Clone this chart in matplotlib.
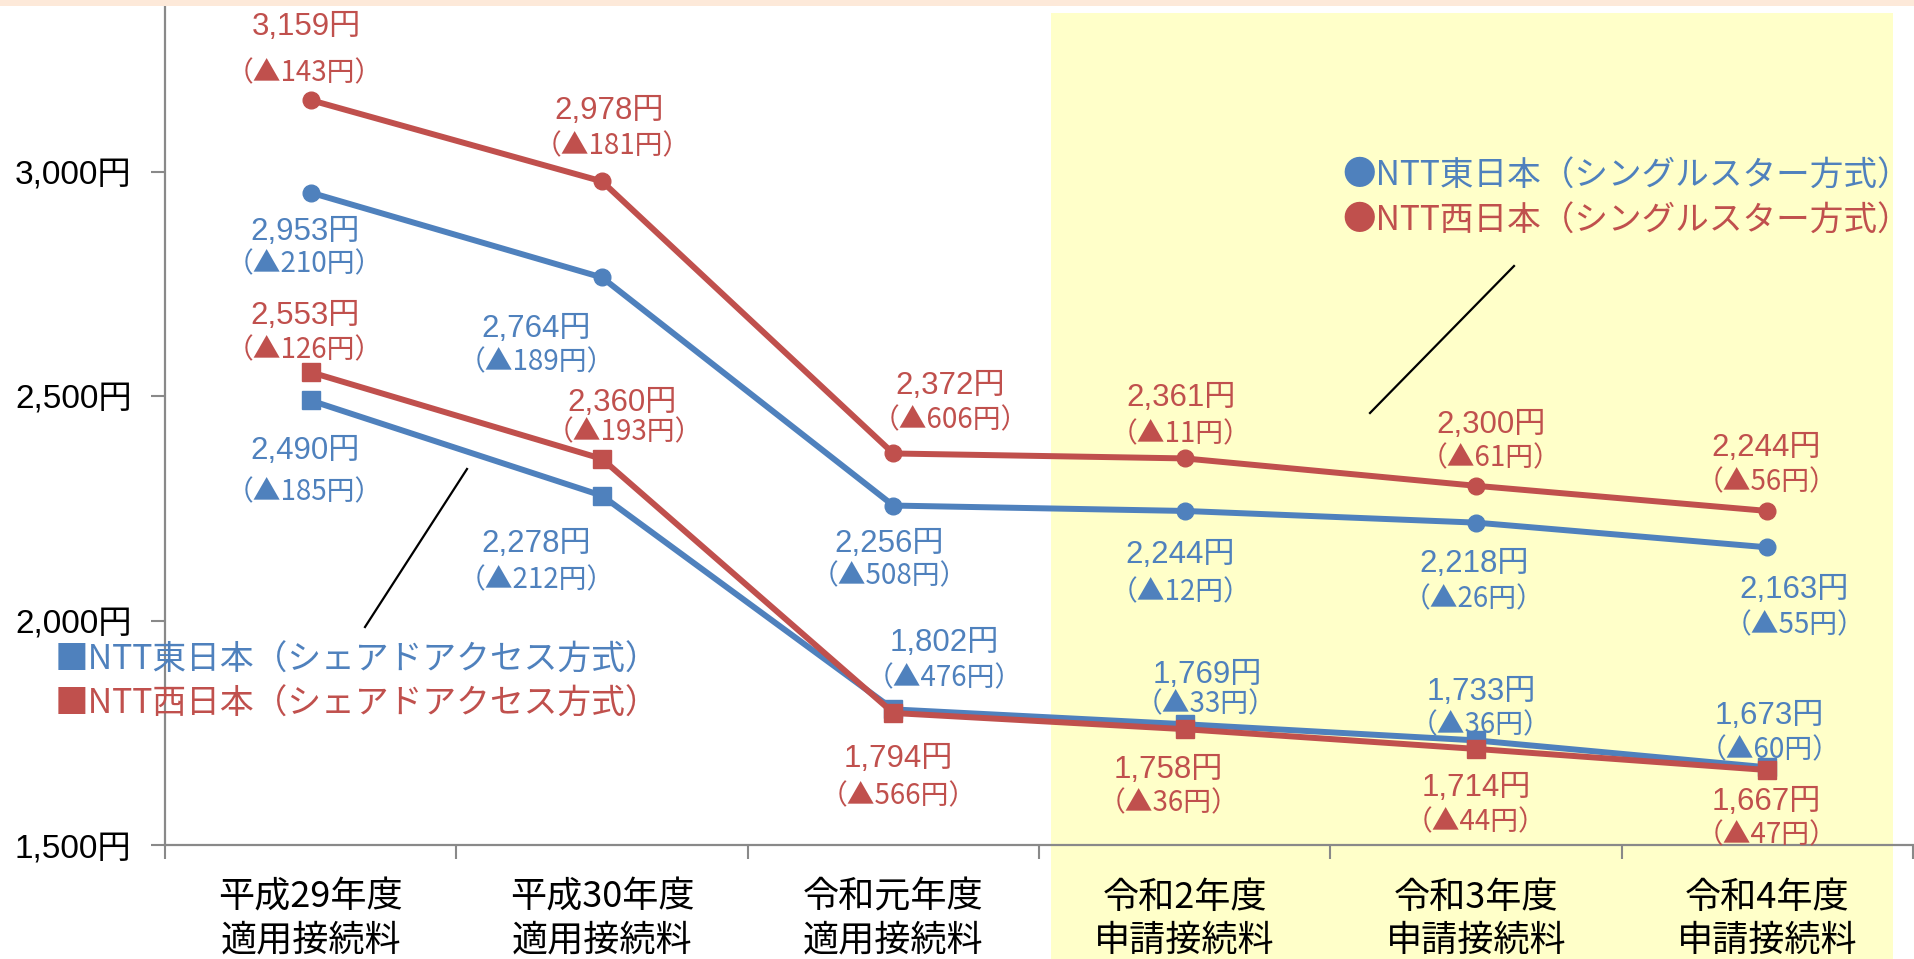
import matplotlib
matplotlib.use("Agg")
import matplotlib.pyplot as plt
from matplotlib.patches import Rectangle
from matplotlib.lines import Line2D

plt.rcParams['font.family'] = ['Liberation Sans', 'Noto Sans CJK JP']
CJK = ['Noto Sans CJK JP', 'DejaVu Sans']

# ---------------- data ----------------
categories = ["平成29年度\n適用接続料", "平成30年度\n適用接続料", "令和元年度\n適用接続料",
              "令和2年度\n申請接続料", "令和3年度\n申請接続料", "令和4年度\n申請接続料"]
east_single = [2953, 2764, 2256, 2244, 2218, 2163]
west_single = [3159, 2978, 2372, 2361, 2300, 2244]
east_shared = [2490, 2278, 1802, 1769, 1733, 1673]
west_shared = [2553, 2360, 1794, 1758, 1714, 1667]
east_single_cut = [210, 189, 508, 12, 26, 55]
west_single_cut = [143, 181, 606, 11, 61, 56]
east_shared_cut = [185, 212, 476, 33, 36, 60]
west_shared_cut = [126, 193, 566, 36, 44, 47]
yticks = [1500, 2000, 2500, 3000]

# ---------------- label offsets (pixels, +down) ----------------
off = {
    'ws': ([(-4, -73), (7, -70), (57, -67), (-4, -60), (15, -61), (-1, -63)],
           [(-6, -27), (10, -35), (57, -33), (-4, -24), (15, -27), (-1, -29)]),
    'es': ([(-6, 39), (-66, 52), (-4, 38), (-4, 44), (-2, 41), (27, 43)],
           [(-6, 72), (-66, 85), (-4, 71), (-4, 81), (-2, 77), (27, 78)]),
    'eh': ([(-6, 51), (-66, 48), (51, -66), (23, -49), (5, -48), (2, -51)],
           [(-6, 92), (-66, 85), (51, -31), (21, -20), (5, -15), (2, -17)]),
    'wh': ([(-6, -56), (20, -56), (5, 46), (-16, 41), (0, 39), (-1, 32)],
           [(-6, -22), (22, -27), (5, 83), (-16, 74), (0, 73), (-1, 65)]),
}

BLUE = "#4F81BD"
RED = "#C0504D"

W, H = 1914, 959
fig = plt.figure(figsize=(W / 100, H / 100), dpi=100)
fig.patch.set_facecolor("white")

def fx(px):
    return px / W

def fy(py):
    return 1 - py / H

ax = fig.add_axes([fx(165), fy(845), fx(1913) - fx(165), fy(0) - fy(845)])
ax.set_facecolor("none")

# background highlight
fig.patches.append(Rectangle((fx(1051), 0), fx(1893) - fx(1051), fy(13), transform=fig.transFigure,
                             facecolor="#FFFFC9", edgecolor="none", zorder=-5))
# top strip
fig.patches.append(Rectangle((0, fy(6)), 1, 1 - fy(6), transform=fig.transFigure,
                             facecolor="#FDE9D9", edgecolor="none", zorder=20))

x = list(range(len(categories)))
lw = 4.3
ax.plot(x, east_single, color=BLUE, lw=lw, marker='o', ms=12, zorder=3)
ax.plot(x, west_single, color=RED, lw=lw, marker='o', ms=12, zorder=3)
ax.plot(x, east_shared, color=BLUE, lw=lw, marker='s', ms=13.5, zorder=3)
ax.plot(x, west_shared, color=RED, lw=lw, marker='s', ms=13.5, zorder=4)

ax.set_xlim(-0.5, 5.5)
ax.set_ylim(1500, 1500 + 845 / 0.449)
ax.set_yticks(yticks)
ax.set_yticklabels([f"{v:,}円" for v in yticks], fontsize=24)
ax.set_xticks([i + 0.5 for i in range(-1, 6)], minor=False)
ax.set_xticklabels([])
ax.set_xticks(x, minor=True)
ax.set_xticklabels(categories, minor=True, fontsize=26, linespacing=1.25, family=CJK)
ax.tick_params(axis='x', which='major', length=10, width=1.5, color="#898989", direction='out')
ax.tick_params(axis='x', which='minor', length=0, pad=25)
ax.tick_params(axis='y', length=10, width=1.5, color="#898989", direction='out', pad=14)
for s in ['top', 'right']:
    ax.spines[s].set_visible(False)
for s in ['left', 'bottom']:
    ax.spines[s].set_color("#898989")
    ax.spines[s].set_linewidth(1.6)

def labels(vals, cuts, key, color):
    vo, do = off[key]
    for i, (v, c) in enumerate(zip(vals, cuts)):
        ax.annotate(f"{v:,}円", (i, v), xytext=(vo[i][0], -vo[i][1]), textcoords='offset pixels',
                    ha='center', va='center', fontsize=22.5, color=color, zorder=6)
        ax.annotate(f"（▲{c}円）", (i, v), xytext=(do[i][0], -do[i][1]), textcoords='offset pixels',
                    ha='center', va='center', fontsize=20, color=color, zorder=6, family=CJK)

labels(west_single, west_single_cut, 'ws', RED)
labels(east_single, east_single_cut, 'es', BLUE)
labels(east_shared, east_shared_cut, 'eh', BLUE)
labels(west_shared, west_shared_cut, 'wh', RED)

# legends (text annotations)
fig.text(fx(1911), fy(175), "●NTT東日本（シングルスター方式）", color=BLUE, fontsize=24.2, ha='right', va='center', family=CJK)
fig.text(fx(1911), fy(220), "●NTT西日本（シングルスター方式）", color=RED, fontsize=24.2, ha='right', va='center', family=CJK)
fig.text(fx(55), fy(660), "■NTT東日本（シェアドアクセス方式）", color=BLUE, fontsize=24.3, ha='left', va='center', family=CJK)
fig.text(fx(55), fy(704), "■NTT西日本（シェアドアクセス方式）", color=RED, fontsize=24.3, ha='left', va='center', family=CJK)

fig.lines.append(Line2D([fx(1370), fx(1514)], [fy(413), fy(266)], transform=fig.transFigure, color='black', lw=1.6))
fig.lines.append(Line2D([fx(365), fx(467)], [fy(627), fy(469)], transform=fig.transFigure, color='black', lw=1.6))

fig.savefig("out.png", dpi=100)
